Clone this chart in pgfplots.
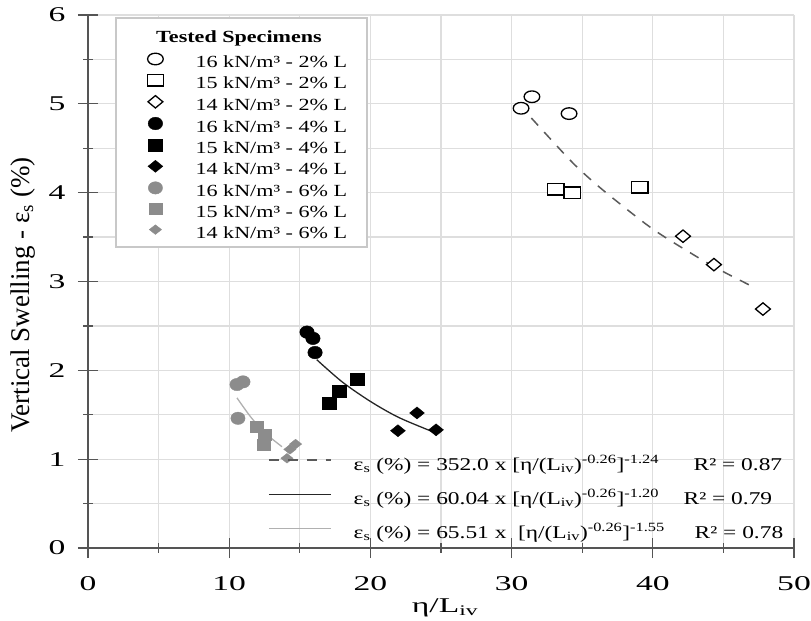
\documentclass[border=0pt]{standalone}
\usepackage{fontspec}
\setmainfont{Liberation Serif}
\newfontfamily\tickfont{Liberation Serif}[FakeStretch=1.6]
\newfontfamily\legfont{Liberation Serif}[FakeStretch=1.3]
\usepackage{pgfplots}
\pgfplotsset{compat=1.18}

\definecolor{gridgray}{HTML}{DEDEDE}
\definecolor{axisgray}{HTML}{555555}
\definecolor{boxgray}{HTML}{C8C8C8}
\definecolor{markgray}{HTML}{8C8C8C}
\definecolor{fitgray}{HTML}{B0B0B0}
\definecolor{dashgray}{HTML}{5A5A5A}

\begin{document}
\begin{tikzpicture}
\path[use as bounding box] (0,0) rectangle (811bp,621bp);

% main axis: data, fitted curves and specimen legend
\begin{axis}[
  at={(88bp,73bp)}, anchor=south west,
  scale only axis, width=706bp, height=533bp,
  xmin=0, xmax=50, ymin=0, ymax=6,
  xtick={0,10,...,50}, minor xtick={5,15,...,45},
  ytick={0,...,6}, minor ytick={0.5,1.5,...,5.5},
  grid=both,
  grid style={gridgray, line width=1.2bp},
  minor grid style={gridgray, line width=1.2bp},
  axis lines=left,
  axis line style={-, axisgray, line width=1.6bp},
  tick align=center, major tick length=20bp, minor tick length=9bp,
  tick style={axisgray, line width=1.2bp},
  /pgf/number format/assume math mode=true,
  ticklabel style={font=\tickfont\fontsize{21bp}{24bp}\selectfont},
  xticklabel style={yshift=-15bp},
  yticklabel style={xshift=-9bp},
  xlabel={η/L\textsubscript{iv}},
  ylabel={Vertical Swelling - ε\textsubscript{s} (\%)},
  every axis x label/.style={at={(rel axis cs:0.5057,0)}, anchor=center,
    yshift=-60bp, font=\tickfont\fontsize{21bp}{24bp}\selectfont},
  every axis y label/.style={at={(rel axis cs:0,0.4747)}, rotate=90,
    anchor=center, yshift=65bp, font=\fontsize{27bp}{30bp}\selectfont},
  clip=false,
  legend style={at={(rel axis cs:0.0751,0.9287)}, anchor=north west,
    draw=none, fill=none, inner sep=0pt, /tikz/column sep=26bp, row sep=0pt,
    font=\legfont\fontsize{17bp}{20bp}\selectfont,
    nodes={inner sep=0pt, text height=14bp, text depth=6.8bp}},
  legend cell align=left,
  legend image code/.code={
    \path (0bp,0bp) (28bp,0bp);
    \draw[mark repeat=2,mark phase=2] plot coordinates {(0bp,5bp) (14bp,5bp) (28bp,5bp)};
  },
]

% legend frame and heading
\draw[boxgray, line width=1.3bp, fill=white]
  (rel axis cs:0.03966,0.9944) rectangle (rel axis cs:0.3952,0.5647);
\node[font=\legfont\bfseries\fontsize{17bp}{20bp}\selectfont]
  at (rel axis cs:0.2139,0.9568) {Tested Specimens};

% fitted power curves
\addplot[forget plot, dashgray, line width=1.5bp, dash pattern=on 10bp off 9bp, smooth]
  coordinates {(31.4,4.84) (34,4.39) (35.3,4.19) (37,3.96) (40,3.59) (43,3.29) (45,3.11) (47.1,2.94)};
\addplot[forget plot, black!85, line width=1.3bp, smooth]
  coordinates {(16.2,2.12) (18,1.87) (20,1.65) (22,1.47) (24.4,1.31)};
\addplot[forget plot, fitgray, line width=1.3bp, smooth]
  coordinates {(10.55,1.69) (11.5,1.48) (12.5,1.30) (13.74,1.14)};

% 2% lime
\addplot[only marks, mark=*, mark size=5.8bp,
  mark options={xscale=1.35, draw=black, fill=white, line width=1.3bp}]
  coordinates {(30.67,4.95) (31.44,5.08) (34.07,4.89)};
\addlegendentry{16 kN/m³ - 2\% L}
\addplot[only marks, mark=square*, mark size=5.8bp,
  mark options={xscale=1.4, draw=black, fill=white, line width=1.3bp}]
  coordinates {(33.14,4.04) (34.28,4.00) (39.09,4.06)};
\addlegendentry{15 kN/m³ - 2\% L}
\addplot[only marks, mark=diamond*, mark size=6.2bp,
  mark options={xscale=1.6, draw=black, fill=white, line width=1.3bp}]
  coordinates {(42.14,3.51) (44.33,3.19) (47.80,2.69)};
\addlegendentry{14 kN/m³ - 2\% L}

% 4% lime
\addplot[only marks, mark=*, mark size=6.3bp,
  mark options={xscale=1.15, draw=black, fill=black}]
  coordinates {(15.51,2.43) (15.93,2.36) (16.08,2.20)};
\addlegendentry{16 kN/m³ - 4\% L}
\addplot[only marks, mark=square*, mark size=6bp,
  mark options={xscale=1.2, draw=black, fill=black}]
  coordinates {(17.07,1.63) (17.78,1.76) (19.05,1.90)};
\addlegendentry{15 kN/m³ - 4\% L}
\addplot[only marks, mark=diamond*, mark size=6bp,
  mark options={xscale=1.65, draw=black, fill=black}]
  coordinates {(21.95,1.32) (23.30,1.52) (24.65,1.33)};
\addlegendentry{14 kN/m³ - 4\% L}

% 6% lime
\addplot[only marks, mark=*, mark size=6.2bp,
  mark options={xscale=1.15, draw=markgray, fill=markgray}]
  coordinates {(10.55,1.84) (10.98,1.87) (10.62,1.46)};
\addlegendentry{16 kN/m³ - 6\% L}
\addplot[only marks, mark=square*, mark size=5.5bp,
  mark options={xscale=1.2, draw=markgray, fill=markgray}]
  coordinates {(11.97,1.37) (12.54,1.27) (12.46,1.16)};
\addlegendentry{15 kN/m³ - 6\% L}
\addplot[only marks, mark=diamond*, mark size=4.8bp,
  mark options={xscale=1.7, draw=markgray, fill=markgray}]
  coordinates {(14.09,1.01) (14.30,1.11) (14.70,1.17)};
\addlegendentry{14 kN/m³ - 6\% L}
\end{axis}

% overlay axis carrying the legend of the fitted equations
\begin{axis}[
  at={(88bp,73bp)}, anchor=south west,
  scale only axis, width=706bp, height=533bp,
  xmin=0, xmax=50, ymin=0, ymax=6,
  hide axis,
  legend style={at={(rel axis cs:0.255,0.1876)}, anchor=north west,
    draw=none, fill=none, inner sep=0pt, /tikz/column sep=22bp, row sep=0pt,
    font=\legfont\fontsize{18bp}{21bp}\selectfont,
    nodes={inner sep=0pt, text height=22bp, text depth=12bp}},
  legend cell align=left,
  legend image code/.code={\draw (0bp,5bp) -- (62bp,5bp);},
]
\addlegendimage{dashgray, line width=1.5bp, dash pattern=on 10bp off 9bp}
\addlegendentry{\makebox[340bp][l]{ε\textsubscript{s} (\%) = 352.0 x [η/(L\textsubscript{iv})\textsuperscript{-0.26}]\textsuperscript{-1.24}}R² = 0.87}
\addlegendimage{black!85, line width=1.3bp}
\addlegendentry{\makebox[330bp][l]{ε\textsubscript{s} (\%) = 60.04 x [η/(L\textsubscript{iv})\textsuperscript{-0.26}]\textsuperscript{-1.20}}R² = 0.79}
\addlegendimage{fitgray, line width=1.3bp}
\addlegendentry{\makebox[341bp][l]{ε\textsubscript{s} (\%) = 65.51 x \ [η/(L\textsubscript{iv})\textsuperscript{-0.26}]\textsuperscript{-1.55}}R² = 0.78}
\end{axis}
\end{tikzpicture}
\end{document}
